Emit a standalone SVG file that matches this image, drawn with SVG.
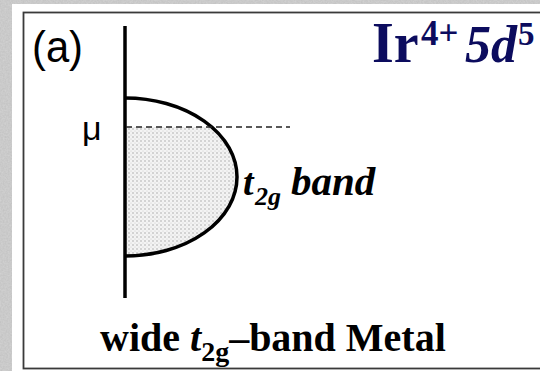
<svg xmlns="http://www.w3.org/2000/svg" width="540" height="371" viewBox="0 0 540 371">
<style>
.ser{font-family:"Liberation Serif","Times New Roman",serif;font-weight:bold}
.it{font-style:italic}
.navy{fill:#0c0c5e}
.sans{font-family:"Liberation Sans",Arial,sans-serif}
</style>
<defs>
<filter id="noise" x="0" y="0" width="100%" height="100%">
<feTurbulence type="fractalNoise" baseFrequency="0.6" numOctaves="2" seed="3" result="t"/>
<feColorMatrix in="t" type="matrix" values="0 0 0 0 0.72  0 0 0 0 0.72  0 0 0 0 0.72  0 0 0 -1.2 1.1"/>
</filter>
<pattern id="dots" width="4" height="4" patternUnits="userSpaceOnUse">
<rect width="4" height="4" fill="#f3f3f3"/>
<circle cx="1" cy="1" r="0.7" fill="#9a9a9a"/>
<circle cx="3" cy="3" r="0.5" fill="#c4c4c4"/>
</pattern>
</defs>
<g id="background">
<rect x="0" y="0" width="540" height="371" fill="#c2c2c2"/>
<rect x="0" y="0" width="540" height="371" filter="url(#noise)" opacity="0.6"/>
<rect x="12" y="4" width="528" height="367" fill="#ffffff"/>
<rect x="23.5" y="12.5" width="540" height="356" fill="none" stroke="#3a3a3a" stroke-width="1.8"/>
</g>
<g id="band">
<path d="M125,127 L212,127 A112,79 0 0 1 125,256 Z" fill="url(#dots)"/>
<path d="M125,98 A112,79 0 0 1 125,256" fill="none" stroke="#000" stroke-width="3.5"/>
</g>
<g id="connectors">
<line x1="125" y1="26" x2="125" y2="298" stroke="#000" stroke-width="3.5"/>
<line x1="126" y1="127" x2="290" y2="127" stroke="#222" stroke-width="1.5" stroke-dasharray="6 4"/>
</g>
<g id="label-a">
<text class="sans" x="32" y="62" font-size="45" textLength="51" lengthAdjust="spacingAndGlyphs">(a)</text>
</g>
<g id="label-mu">
<text class="sans" x="82" y="140" font-size="34">μ</text>
</g>
<g id="title">
<text class="ser navy" x="372" y="62" font-size="56">Ir</text>
<text class="ser navy" x="421" y="45" font-size="35">4+</text>
<text class="ser navy it" x="465" y="62" font-size="52">5d</text>
<text class="ser navy" x="518" y="45" font-size="33">5</text>
</g>
<g id="label-band">
<text class="ser it" x="243" y="195" font-size="38">t</text>
<text class="ser it" x="255" y="205" font-size="26">2g</text>
<text class="ser it" x="291" y="195" font-size="41">band</text>
</g>
<g id="caption">
<text class="ser" x="100" y="351" font-size="40">wide <tspan class="it">t</tspan><tspan dy="10" font-size="28">2g</tspan><tspan dy="-10">–band Metal</tspan></text>
</g>
</svg>
